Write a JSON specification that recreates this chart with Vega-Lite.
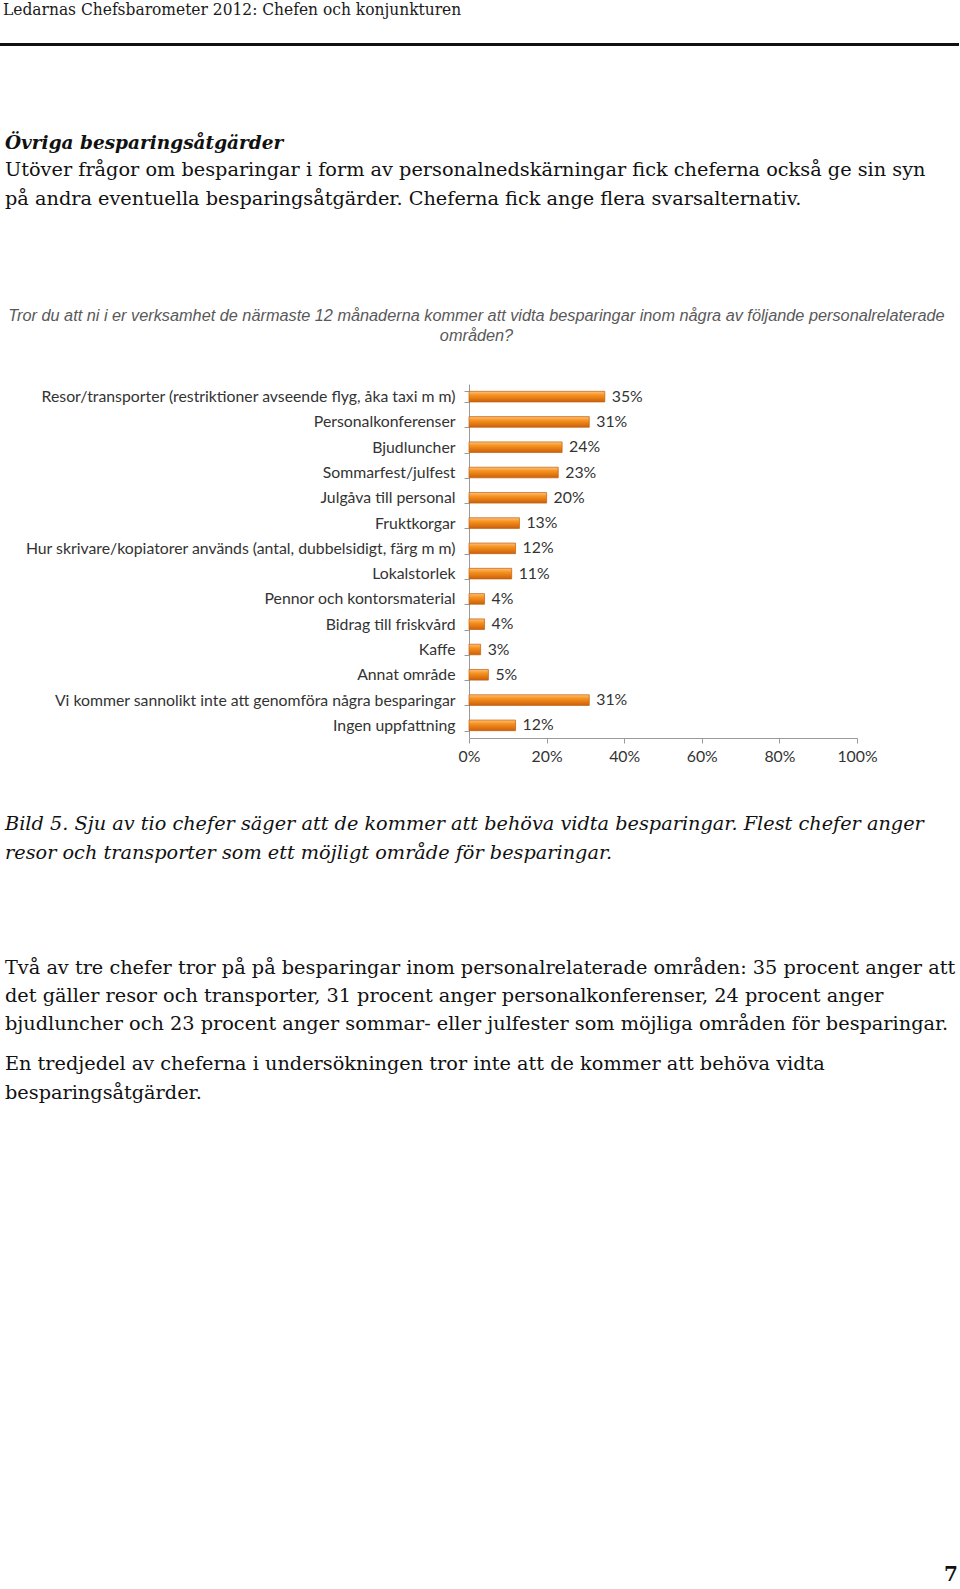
{
  "$schema": "https://vega.github.io/schema/vega-lite/v6.json",
  "padding": 0,
  "background": "white",
  "spacing": 0,
  "config": {"view": {"stroke": null}},
  "vconcat": [
    {
      "width": 959, "height": 3,
      "view": {"fill": "#111111", "stroke": null},
      "data": {"values": []},
      "mark": "text",
      "title": {"text": "Ledarnas Chefsbarometer 2012: Chefen och konjunkturen", "anchor": "start", "dx": 3, "offset": 25, "font": "DejaVu Serif Condensed", "fontSize": 17.2, "fontWeight": "normal", "color": "#1a1a1a"}
    },
    {
      "width": 959, "height": 88,
      "data": {"values": []},
      "mark": "text",
      "title": {
        "text": "Övriga besparingsåtgärder",
        "subtitle": ["Utöver frågor om besparingar i form av personalnedskärningar fick cheferna också ge sin syn", "på andra eventuella besparingsåtgärder. Cheferna fick ange flera svarsalternativ."],
        "orient": "bottom", "anchor": "start", "dx": 5, "offset": 0,
        "font": "DejaVu Serif", "fontSize": 18.5, "fontStyle": "italic", "fontWeight": "bold", "color": "#111111",
        "subtitleFont": "DejaVu Serif", "subtitleFontSize": 19.3, "subtitleFontStyle": "normal", "subtitleFontWeight": "normal", "subtitleColor": "#111111", "subtitleLineHeight": 29.5, "subtitlePadding": 8
      }
    },
    {
      "width": 959, "height": 98,
      "data": {"values": []},
      "mark": "text",
      "title": {
        "text": ["Tror du att ni i er verksamhet de närmaste 12 månaderna kommer att vidta besparingar inom några av följande personalrelaterade", "områden?"],
        "orient": "bottom", "anchor": "middle", "dx": -3, "offset": 0, "lineHeight": 19.5,
        "font": "Liberation Sans", "fontSize": 16.3, "fontStyle": "italic", "fontWeight": "normal", "color": "#595959"
      }
    },
    {
      "width": 959, "height": 31.5,
      "data": {"values": []},
      "mark": "text"
    },
    {
      "bounds": "flush",
      "spacing": 0,
      "hconcat": [
        {
          "width": 469, "height": 354,
          "data": {"values": []},
          "mark": "text"
        },
        {
          "width": 388, "height": 354,
          "data": {"values": [
            {"omrade": "Resor/transporter (restriktioner avseende flyg, åka taxi m m)", "andel": 0.35},
            {"omrade": "Personalkonferenser", "andel": 0.31},
            {"omrade": "Bjudluncher", "andel": 0.24},
            {"omrade": "Sommarfest/julfest", "andel": 0.23},
            {"omrade": "Julgåva till personal", "andel": 0.20},
            {"omrade": "Fruktkorgar", "andel": 0.13},
            {"omrade": "Hur skrivare/kopiatorer används (antal, dubbelsidigt, färg m m)", "andel": 0.12},
            {"omrade": "Lokalstorlek", "andel": 0.11},
            {"omrade": "Pennor och kontorsmaterial", "andel": 0.04},
            {"omrade": "Bidrag till friskvård", "andel": 0.04},
            {"omrade": "Kaffe", "andel": 0.03},
            {"omrade": "Annat område", "andel": 0.05},
            {"omrade": "Vi kommer sannolikt inte att genomföra några besparingar", "andel": 0.31},
            {"omrade": "Ingen uppfattning", "andel": 0.12}
          ]},
          "encoding": {
            "y": {
              "field": "omrade", "type": "nominal", "sort": null,
              "scale": {"paddingInner": 0.58, "paddingOuter": 0.29},
              "axis": {"title": null, "tickBand": "extent", "labelLimit": 600, "labelFont": "Lato", "labelFontSize": 15.8, "labelColor": "#333333", "domainColor": "#9a9a9a", "tickColor": "#9a9a9a", "tickSize": 5, "labelPadding": 9}
            },
            "x": {
              "field": "andel", "type": "quantitative",
              "scale": {"domain": [0, 1], "nice": false},
              "axis": {"title": null, "format": ".0%", "values": [0, 0.2, 0.4, 0.6, 0.8, 1], "grid": false, "labelFlush": false, "labelFont": "Lato", "labelFontSize": 15.8, "labelColor": "#333333", "domainColor": "#9a9a9a", "tickColor": "#9a9a9a", "tickSize": 5, "labelPadding": 6}
            }
          },
          "layer": [
            {
              "mark": {
                "type": "bar",
                "fill": {"gradient": "linear", "x1": 0, "y1": 0, "x2": 0, "y2": 1, "stops": [
                  {"offset": 0, "color": "#fcc27e"},
                  {"offset": 0.35, "color": "#f7931f"},
                  {"offset": 1, "color": "#cc600b"}
                ]},
                "stroke": "#c25e0b", "strokeWidth": 0.7
              }
            },
            {
              "mark": {"type": "text", "align": "left", "baseline": "middle", "dx": 7, "font": "Lato", "fontSize": 15.8, "color": "#333333"},
              "encoding": {"text": {"field": "andel", "type": "quantitative", "format": ".0%"}}
            }
          ]
        }
      ]
    },
    {
      "width": 959, "height": 50.5,
      "data": {"values": []},
      "mark": "text",
      "title": {
        "text": ["Bild 5. Sju av tio chefer säger att de kommer att behöva vidta besparingar. Flest chefer anger", "resor och transporter som ett möjligt område för besparingar."],
        "subtitle": ["Två av tre chefer tror på på besparingar inom personalrelaterade områden: 35 procent anger att", "det gäller resor och transporter, 31 procent anger personalkonferenser, 24 procent anger", "bjudluncher och 23 procent anger sommar- eller julfester som möjliga områden för besparingar."],
        "orient": "bottom", "anchor": "start", "dx": 5, "offset": 0, "lineHeight": 29.5,
        "font": "DejaVu Serif", "fontSize": 19.3, "fontStyle": "italic", "fontWeight": "normal", "color": "#111111",
        "subtitleFont": "DejaVu Serif", "subtitleFontSize": 19.3, "subtitleFontStyle": "normal", "subtitleFontWeight": "normal", "subtitleColor": "#111111", "subtitleLineHeight": 28, "subtitlePadding": 96
      }
    },
    {
      "width": 959, "height": 20,
      "data": {"values": []},
      "mark": "text",
      "title": {
        "text": ["En tredjedel av cheferna i undersökningen tror inte att de kommer att behöva vidta", "besparingsåtgärder."],
        "orient": "bottom", "anchor": "start", "dx": 5, "offset": 0, "lineHeight": 28.5,
        "font": "DejaVu Serif", "fontSize": 19.3, "fontStyle": "normal", "fontWeight": "normal", "color": "#111111"
      }
    },
    {
      "width": 959, "height": 462,
      "data": {"values": []},
      "mark": "text",
      "title": {
        "text": "7",
        "orient": "bottom", "anchor": "end", "dx": -1, "offset": 0,
        "font": "DejaVu Serif", "fontSize": 20, "fontWeight": "bold", "color": "#111111"
      }
    }
  ]
}
